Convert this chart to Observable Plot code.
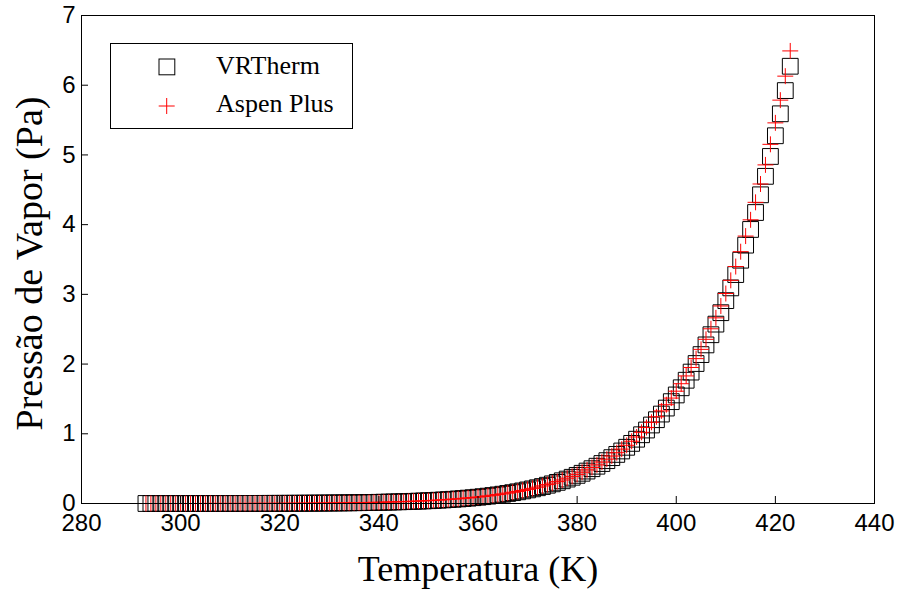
<!DOCTYPE html>
<html><head><meta charset="utf-8">
<script src="https://cdn.jsdelivr.net/npm/d3@7"></script>
<script src="https://cdn.jsdelivr.net/npm/@observablehq/plot@0.6"></script>
<style>
body{margin:0;background:#fff;}
#wrap{position:relative;width:901px;height:592px;}
#legend{position:absolute;left:110px;top:43px;width:241px;height:84px;border:1px solid #000;background:#fff;font-family:"Liberation Serif","Times New Roman",serif;font-size:26px;color:#000;}
#legend .lab{position:absolute;left:105px;line-height:1;}
#legend svg{position:absolute;left:0;top:0;}
g[aria-label="xtitle"] text, g[aria-label="ytitle"] text{font-family:"Liberation Serif","Times New Roman",serif !important;}
</style></head><body><div id="wrap"></div>
<script>
const temperature = [293,294,295,296,297,298,299,300,301,302,303,304,305,306,307,308,309,310,311,312,313,314,315,316,317,318,319,320,321,322,323,324,325,326,327,328,329,330,331,332,333,334,335,336,337,338,339,340,341,342,343,344,345,346,347,348,349,350,351,352,353,354,355,356,357,358,359,360,361,362,363,364,365,366,367,368,369,370,371,372,373,374,375,376,377,378,379,380,381,382,383,384,385,386,387,388,389,390,391,392,393,394,395,396,397,398,399,400,401,402,403,404,405,406,407,408,409,410,411,412,413,414,415,416,417,418,419,420,421,422,423];
const vrtherm = [0.0001,0.0002,0.0002,0.0002,0.0002,0.0002,0.0003,0.0003,0.0003,0.0004,0.0004,0.0005,0.0005,0.0006,0.0007,0.0007,0.0008,0.0009,0.0010,0.0011,0.0013,0.0014,0.0015,0.0017,0.0019,0.0021,0.0023,0.0026,0.0028,0.0031,0.0035,0.0038,0.0042,0.0046,0.0051,0.0056,0.0062,0.0068,0.0075,0.0082,0.0090,0.0098,0.0108,0.0118,0.0129,0.0142,0.0155,0.0169,0.0185,0.0202,0.0220,0.0240,0.0262,0.0285,0.0311,0.0338,0.0368,0.0400,0.0435,0.0473,0.0513,0.0557,0.0605,0.0656,0.0711,0.0770,0.0833,0.0903,0.0977,0.1056,0.1142,0.1234,0.1333,0.1440,0.1554,0.1676,0.1807,0.1948,0.2099,0.2261,0.2434,0.2621,0.2820,0.3030,0.3260,0.3503,0.3761,0.4037,0.4335,0.4653,0.4991,0.5348,0.5735,0.6145,0.6577,0.7040,0.7535,0.8065,0.8624,0.9222,0.9861,1.054,1.126,1.202,1.283,1.369,1.461,1.557,1.660,1.768,1.885,2.008,2.136,2.275,2.421,2.573,2.737,2.910,3.093,3.284,3.490,3.706,3.931,4.174,4.428,4.693,4.978,5.275,5.590,5.923,6.272];
const aspenPlus = [0.000,0.000,0.000,0.000,0.000,0.000,0.000,0.000,0.000,0.000,0.000,0.000,0.001,0.001,0.001,0.001,0.001,0.001,0.001,0.001,0.001,0.001,0.002,0.002,0.002,0.002,0.002,0.003,0.003,0.003,0.004,0.004,0.004,0.005,0.005,0.006,0.006,0.007,0.008,0.008,0.009,0.010,0.011,0.012,0.013,0.015,0.016,0.017,0.019,0.021,0.023,0.025,0.027,0.030,0.032,0.035,0.038,0.041,0.045,0.049,0.053,0.058,0.063,0.068,0.074,0.080,0.086,0.093,0.101,0.109,0.118,0.128,0.138,0.149,0.161,0.173,0.187,0.202,0.217,0.234,0.252,0.271,0.292,0.314,0.337,0.363,0.389,0.418,0.449,0.482,0.517,0.554,0.594,0.636,0.681,0.729,0.780,0.835,0.893,0.954,1.021,1.091,1.165,1.244,1.328,1.417,1.512,1.611,1.718,1.830,1.951,2.078,2.211,2.355,2.506,2.663,2.833,3.012,3.201,3.399,3.612,3.836,4.069,4.320,4.583,4.857,5.152,5.460,5.786,6.130,6.492];
const xTicks = [280,300,320,340,360,380,400,420,440];
const yTicks = [0,1,2,3,4,5,6,7];
const seriesNames = ["VRTherm","Aspen Plus"];
const xTitle = "Temperatura (K)";
const yTitle = "Pressão de Vapor (Pa)";

const data = temperature.map((t,i)=>({t, v: vrtherm[i], a: aspenPlus[i]}));

const chart = Plot.plot({
  width: 901, height: 592,
  marginLeft: 81, marginRight: 27, marginTop: 15, marginBottom: 89,
  style: {fontFamily: "'Liberation Sans', Arial, sans-serif", fontSize: "24px", color: "#000", background: "#fff"},
  x: {domain: [280, 440]},
  y: {domain: [0, 7]},
  marks: [
    Plot.dot(data, {x: "t", y: "v", symbol: "square", r: 8.9, stroke: "#000", strokeWidth: 1, fill: "none"}),
    Plot.dot(data, {x: "t", y: "a", symbol: "plus", r: 5.2, stroke: "#ff0000", strokeWidth: 1}),
    Plot.frame({stroke: "#000", strokeWidth: 1}),
    Plot.axisX({ticks: xTicks, tickSize: -7, tickPadding: 17, label: null, tickFormat: d => String(d)}),
    Plot.axisY({ticks: yTicks, tickSize: -7, tickPadding: 13, label: null, tickFormat: d => String(d)}),
    Plot.text([xTitle], {ariaLabel: "xtitle", frameAnchor: "bottom", text: d => d, dy: 66, fontFamily: "'Liberation Serif', 'Times New Roman', serif", fontSize: 36, lineAnchor: "middle", textAnchor: "middle", fill: "#000"}),
    Plot.text([yTitle], {ariaLabel: "ytitle", frameAnchor: "left", text: d => d, dx: -52, dy: 4, rotate: -90, fontFamily: "'Liberation Serif', 'Times New Roman', serif", fontSize: 38, lineAnchor: "middle", textAnchor: "middle", fill: "#000"})
  ]
});
const wrap = document.getElementById("wrap");
wrap.appendChild(chart);

const legend = document.createElement("div");
legend.id = "legend";
legend.innerHTML = `
<svg width="241" height="84">
  <rect x="48" y="15" width="15.8" height="15.8" fill="none" stroke="#000" stroke-width="1"/>
  <path d="M47.7,62H63.7M55.7,54V70" stroke="#ff0000" stroke-width="1" fill="none"/>
</svg>
<div class="lab" style="top:9px">${seriesNames[0]}</div>
<div class="lab" style="top:47px">${seriesNames[1]}</div>`;
wrap.appendChild(legend);
</script>
</body></html>
